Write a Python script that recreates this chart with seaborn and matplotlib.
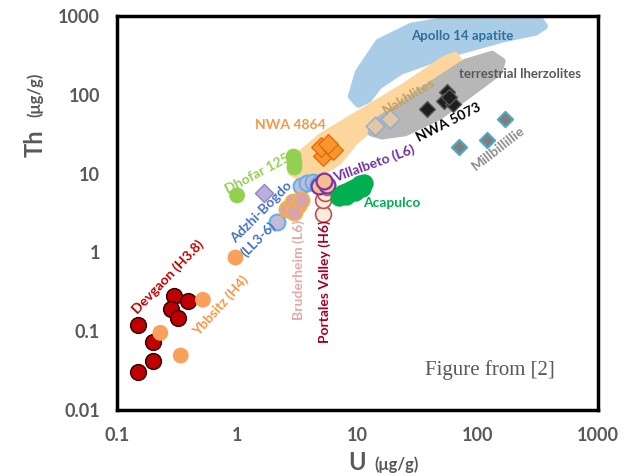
import numpy as np
import pandas as pd
import matplotlib.pyplot as plt
import seaborn as sns

# --- point data, U and Th in ug/g ---
devgaon_u = [0.15, 0.15, 0.20, 0.20, 0.30, 0.28, 0.32, 0.39]
devgaon_th = [0.12, 0.03, 0.042, 0.073, 0.28, 0.19, 0.145, 0.24]
ybbsitz_u = [0.23, 0.34, 0.52, 0.97]
ybbsitz_th = [0.095, 0.049, 0.25, 0.86]
dhofar_u = [1.0, 2.95, 3.0, 3.0]
dhofar_th = [5.3, 16.5, 14.0, 12.0]
adzhi_u = [2.15, 3.4, 3.8, 4.3, 4.7]
adzhi_th = [2.4, 7.0, 7.6, 7.9, 7.3]
adzhi_d_u = [1.66]
adzhi_d_th = [5.6]
bruder_u = [2.6, 2.9, 3.2, 3.0, 3.4]
bruder_th = [3.6, 4.4, 4.0, 3.3, 4.6]
portales_u = [5.2, 5.2, 5.4, 5.6]
portales_th = [3.1, 4.6, 5.6, 6.8]
villa_u = [4.8, 5.6, 5.3]
villa_th = [7.0, 7.2, 8.0]
acapulco_u = [7.0, 7.6, 8.3, 9.0, 9.8, 10.6, 11.3, 11.0, 8.0, 9.5]
acapulco_th = [5.0, 5.6, 6.0, 6.3, 6.8, 7.3, 7.6, 6.6, 5.2, 5.8]
nwa4864_u = [5.2, 5.0, 6.3, 5.7]
nwa4864_th = [16.6, 22, 20, 24]
nakhla_u = [13.9, 18.6]
nakhla_th = [40, 49]
nwa5073_u = [38, 56, 53, 63, 58]
nwa5073_th = [66, 108, 83, 76, 93]
millb_u = [70, 120, 170]
millb_th = [22, 27, 49]

# --- field outlines (U, Th) ---
apollo_u = [8.9, 10.2, 15, 28, 61, 160, 327, 360, 303, 160, 70, 44, 23, 15, 12.4, 10.2]
apollo_th = [96, 194, 467, 746, 916, 971, 916, 746, 626, 510, 359, 284, 200, 129, 88, 76]
nakhlite_u = [2.8, 5.0, 9.4, 24.7, 53, 65, 70, 48, 18.2, 9.4, 6.9, 5.0, 3.4, 2.8]
nakhlite_th = [13.9, 29.7, 53, 129, 284, 319, 268, 173, 60, 24.9, 13.9, 10.4, 8.95, 10.4]
lherz_u = [79, 132, 160, 151, 90, 48, 25, 16, 13, 14, 25, 48]
lherz_th = [260, 329, 268, 194, 108, 53, 33, 30, 33, 45, 80, 158]

frames = []
for name, u, th in [
    ("Devgaon", devgaon_u, devgaon_th), ("Ybbsitz", ybbsitz_u, ybbsitz_th),
    ("Dhofar", dhofar_u, dhofar_th), ("AdzhiD", adzhi_d_u, adzhi_d_th),
    ("Adzhi", adzhi_u, adzhi_th), ("Bruder", bruder_u, bruder_th),
    ("Portales", portales_u, portales_th), ("Villa", villa_u, villa_th),
    ("Acapulco", acapulco_u, acapulco_th), ("NWA4864", nwa4864_u, nwa4864_th),
    ("Nakhla", nakhla_u, nakhla_th), ("NWA5073", nwa5073_u, nwa5073_th),
    ("Millb", millb_u, millb_th)]:
    frames.append(pd.DataFrame({"sample": name, "U": u, "Th": th}))
data = pd.concat(frames, ignore_index=True)

# marker, fill, edge, edge width, size
styles = {
    "Devgaon": ("o", "#C00000", "#2B0000", 1.0, 130),
    "Ybbsitz": ("o", "#F9A05A", "none", 0, 130),
    "Dhofar": ("o", "#92D050", "none", 0, 130),
    "AdzhiD": ("D", "#B9AEDC", "#8E86C8", 1.0, 85),
    "Adzhi": ("o", "#C9B8DA", "#5DB3E8", 1.5, 130),
    "Bruder": ("o", "#D9A3AE", "#F6AE45", 1.5, 130),
    "Portales": ("o", "#FDEBDD", "#C0504D", 1.2, 130),
    "Villa": ("o", "#F9BE8E", "#7B35A8", 1.6, 130),
    "Acapulco": ("o", "#00B050", "#00B050", 1.0, 150),
    "NWA4864": ("D", "#F7962F", "#E46C0A", 1.0, 100),
    "Nakhla": ("D", "#E9CBA0", "#8FAADC", 1.2, 90),
    "NWA5073": ("D", "#1E1E1E", "#555555", 1.0, 65),
    "Millb": ("D", "#7F7F7F", "#4BACC6", 1.5, 60),
}

sns.set_style("white")
plt.rcParams['font.family'] = ['Lato', 'DejaVu Sans']

fig = plt.figure(figsize=(6.28, 4.76), dpi=100)
ax = fig.add_axes([0.186, 0.139, 0.766, 0.827])

ax.fill(apollo_u, apollo_th, color="#A9CDE6", ec="#A9CDE6", lw=5, joinstyle="round", zorder=1)
ax.fill(nakhlite_u, nakhlite_th, color="#FCD69C", ec="#FCD69C", lw=5, joinstyle="round", zorder=1)
ax.fill(lherz_u, lherz_th, color="#B7B7B7", ec="#B7B7B7", lw=5, joinstyle="round", zorder=1)

for name, (mk, fc, ec, lw, s) in styles.items():
    d = data[data["sample"] == name]
    sns.scatterplot(data=d, x="U", y="Th", marker=mk, color=fc, edgecolor=ec,
                    linewidth=lw, s=s, ax=ax, zorder=3, legend=False,
                    alpha=0.85 if name == "Nakhla" else 1)

ax.set_xscale("log")
ax.set_yscale("log")
ax.set_xlim(0.1, 1000)
ax.set_ylim(0.01, 1000)
ax.set_xticks([0.1, 1, 10, 100, 1000])
ax.set_xticklabels(["0.1", "1", "10", "100", "1000"])
ax.set_yticks([0.01, 0.1, 1, 10, 100, 1000])
ax.set_yticklabels(["0.01", "0.1", "1", "10", "100", "1000"])
ax.minorticks_off()
ax.tick_params(direction="in", length=6, width=2, color="black", labelsize=13,
               labelcolor="#595959", pad=12)
for t in ax.get_xticklabels() + ax.get_yticklabels():
    t.set_fontweight("bold")
for sp in ax.spines.values():
    sp.set_linewidth(2.5)
    sp.set_color("black")
ax.set_xlabel("")
ax.set_ylabel("")

# axis titles
fig.text(0.568, 0.012, "U", fontsize=17, fontweight="bold", color="#595959", ha="center")
fig.text(0.632, 0.012, "(μg/g)", fontsize=12, fontweight="bold", color="#595959", ha="center")
fig.text(0.038, 0.70, "Th", fontsize=17, fontweight="bold", color="#595959", rotation=90, va="center")
fig.text(0.043, 0.80, "(μg/g)", fontsize=12, fontweight="bold", color="#595959", rotation=90, va="center")

# sample labels
lab = dict(fontweight="bold", ha="center", va="center", zorder=4)
ax.text(74, 556, "Apollo 14 apatite", fontsize=9.5, color="#2F6F9F", **lab)
ax.text(227, 183, "terrestrial lherzolites", fontsize=9.5, color="#595959", **lab)
ax.text(26.7, 96, "Nakhlites", fontsize=10, color="#C4A062", rotation=31, **lab)
ax.text(2.8, 41, "NWA 4864", fontsize=10, color="#F79646", **lab)
ax.text(57.8, 44.8, "NWA 5073", fontsize=10, color="black", rotation=27, **lab)
ax.text(149, 21, "Millbillillie", fontsize=10, color="#8C8C8C", rotation=38, **lab)
ax.text(1.49, 10.1, "Dhofar 125", fontsize=10, color="#92D050", rotation=28, **lab)
ax.text(13.9, 13.5, "Villalbeto (L6)", fontsize=10, color="#7030A0", rotation=20, **lab)
ax.text(19.3, 4.3, "Acapulco", fontsize=10, color="#00B050", **lab)
ax.text(1.6, 3.2, "Adzhi-Bogdo", fontsize=10, color="#4472C4", rotation=45, **lab)
ax.text(1.49, 1.46, "(LL3-6)", fontsize=10, color="#4472C4", rotation=45, **lab)
ax.text(3.27, 0.60, "Bruderheim (L6)", fontsize=10, color="#E6A8A8", rotation=90, **lab)
ax.text(5.3, 0.43, "Portales Valley (H6)", fontsize=10, color="#A50021", rotation=90, **lab)
ax.text(0.267, 0.49, "Devgaon (H3.8)", fontsize=10, color="#C00000", rotation=46, **lab)
ax.text(0.73, 0.21, "Ybbsitz (H4)", fontsize=10, color="#F79646", rotation=48, **lab)

ax.text(0.775, 0.10, "Figure from [2]", transform=ax.transAxes, fontsize=15,
        family="Liberation Serif", color="#595959", ha="center", va="center")

fig.savefig("out.png", dpi=100)
